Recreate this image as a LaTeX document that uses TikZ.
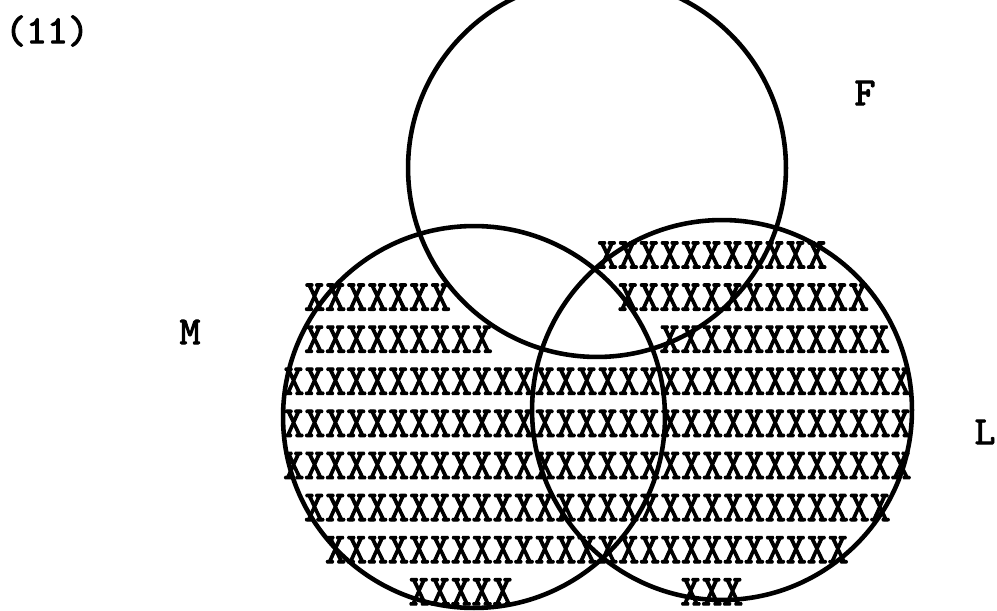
\documentclass[tikz,border=0pt]{standalone}
\usepackage{fontspec}
\usepackage{graphicx}
\usetikzlibrary{positioning}
\newfontfamily\typewr{lmmono10-regular.otf}[FakeBold=2.4]

\begin{document}
\begin{tikzpicture}[
  x=0.02cm, y=-0.02cm,
  setline/.style={draw=black, line width=2.6pt},
  typed/.style={font=\fontsize{22.7pt}{22.7pt}\typewr, inner sep=0pt},
  xrow/.style={typed, anchor=west},
  setname/.style={typed}
]
  \useasboundingbox[fill=white] (0,0) rectangle (997,611);

  % rows of X, typed on a grid (column, row)
  \foreach \nm/\r/\c/\s in {
      a/0/15/XXXXXXXXXXX,
      b/1/1/XXXXXXX,
      c/1/16/XXXXXXXXXXXX,
      d/2/1/XXXXXXXXX,
      e/2/18/XXXXXXXXXXX,
      f/3/0/XXXXXXXXXXXXXXXXXXXXXXXXXXXXXX,
      g/4/0/XXXXXXXXXXXXXXXXXXXXXXXXXXXXXX,
      h/5/0/XXXXXXXXXXXXXXXXXXXXXXXXXXXXXX,
      i/6/1/XXXXXXXXXXXXXXXXXXXXXXXXXXXX,
      j/7/2/XXXXXXXXXXXXXXXXXXXXXXXXX,
      k/8/6/XXXXX,
      l/8/19/XXX}
    \node[xrow] (x\nm) at ({283+\c*20.9},{255+\r*42.1}) {\scalebox{1}[1.1]{\s}};

  % the three sets
  \coordinate (cF) at (597,168);
  \coordinate (cM) at (474,417);
  \coordinate (cL) at (722,410);
  \draw[setline] (cF) circle[radius=3.78cm];
  \draw[setline] (cM) circle[radius=3.82cm];
  \draw[setline] (cL) circle[radius=3.80cm];

  \node[setname] (num) at (47,31) {(11)};
  \node[setname] (nF) at (865,93) {F};
  \node[setname] (nM) at (190,332) {M};
  \node[setname] (nL) at (985,432) {L};
\end{tikzpicture}
\end{document}
